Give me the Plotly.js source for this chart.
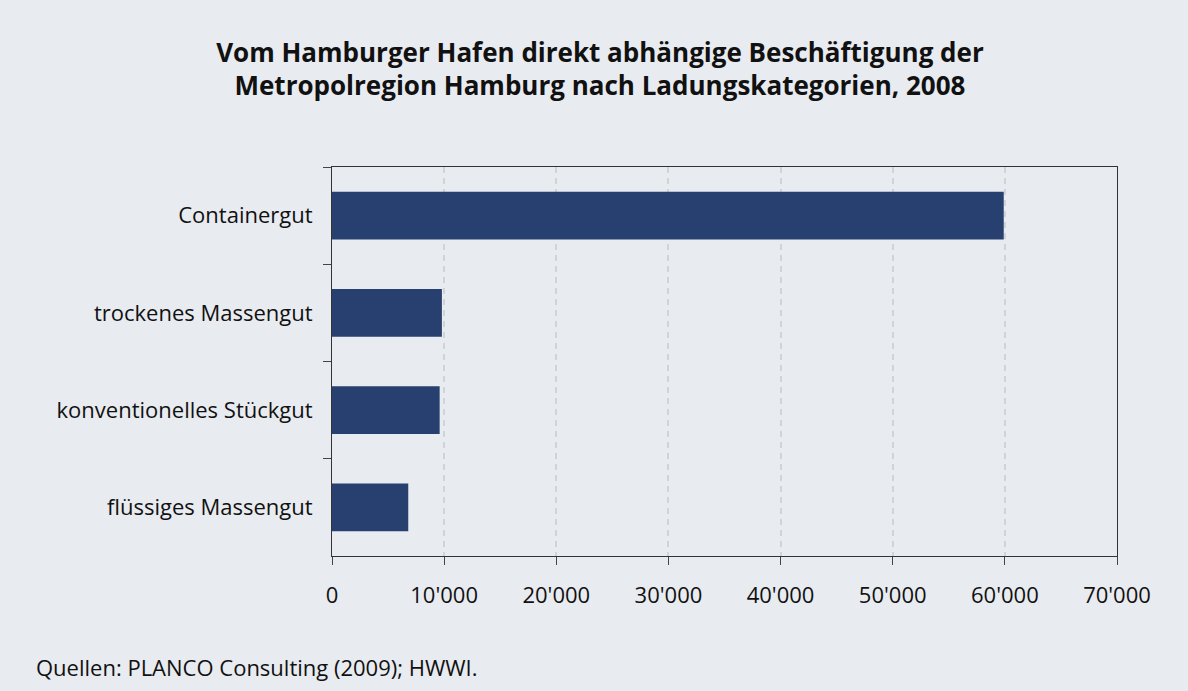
<!DOCTYPE html>
<html>
<head>
<meta charset="utf-8">
<script src="https://cdn.plot.ly/plotly-3.0.1.min.js"></script>
<style>html,body{margin:0;padding:0;background:#e8ebf0;}#chart{width:1188px;height:691px;}</style>
</head>
<body>
<div id="chart"></div>
<script>
const categories = ["Containergut", "trockenes Massengut", "konventionelles Stückgut", "flüssiges Massengut"];
const employment = [59900, 9800, 9600, 6800];
const xTickVals = [0, 10000, 20000, 30000, 40000, 50000, 60000, 70000];

const FONT = "'Open Sans', sans-serif";

const trace = {
  type: "bar",
  orientation: "h",
  y: categories,
  x: employment,
  marker: {color: "#27406f", line: {width: 0}},
  width: 0.49,
  hoverinfo: "x+y"
};

const layout = {
  width: 1188,
  height: 691,
  paper_bgcolor: "#e8ebf0",
  plot_bgcolor: "#e8ebf0",
  separators: ".'",
  margin: {l: 332, r: 71, t: 167, b: 135},
  title: {
    text: "<b>Vom Hamburger Hafen direkt abhängige Beschäftigung der<br>Metropolregion Hamburg nach Ladungskategorien, 2008</b>",
    x: 0.505, xref: "container", xanchor: "center",
    y: 1 - 61.5 / 691, yref: "container", yanchor: "middle",
    font: {family: FONT, size: 26, color: "#111"}
  },
  font: {family: FONT, size: 22, color: "#111"},
  xaxis: {
    range: [0, 70000],
    tickvals: xTickVals,
    tickformat: ",d",
    showgrid: true,
    gridcolor: "#d0d3d7",
    gridwidth: 2,
    griddash: "6px,5px",
    zeroline: false,
    showline: true,
    linecolor: "#333",
    linewidth: 1,
    mirror: true,
    ticks: "outside",
    ticklen: 8,
    tickcolor: "#444",
    ticklabelstandoff: 12,
    tickfont: {family: FONT, size: 22, color: "#111"},
    fixedrange: true
  },
  yaxis: {
    type: "category",
    autorange: "reversed",
    showgrid: false,
    showline: true,
    linecolor: "#333",
    linewidth: 1,
    mirror: true,
    ticks: "outside",
    tickson: "boundaries",
    ticklen: 8,
    tickcolor: "#444",
    ticklabelstandoff: 14,
    tickfont: {family: FONT, size: 22, color: "#111"},
    fixedrange: true
  },
  annotations: [{
    text: "Quellen: PLANCO Consulting (2009); HWWI.",
    xref: "paper", yref: "paper",
    x: (34 - 332) / 785, y: -111 / 389,
    xanchor: "left", yanchor: "middle",
    showarrow: false,
    font: {family: FONT, size: 22, color: "#111"}
  }],
  showlegend: false,
  bargap: 0.51
};

Plotly.newPlot("chart", [trace], layout, {displayModeBar: false, staticPlot: true});
</script>
</body>
</html>
